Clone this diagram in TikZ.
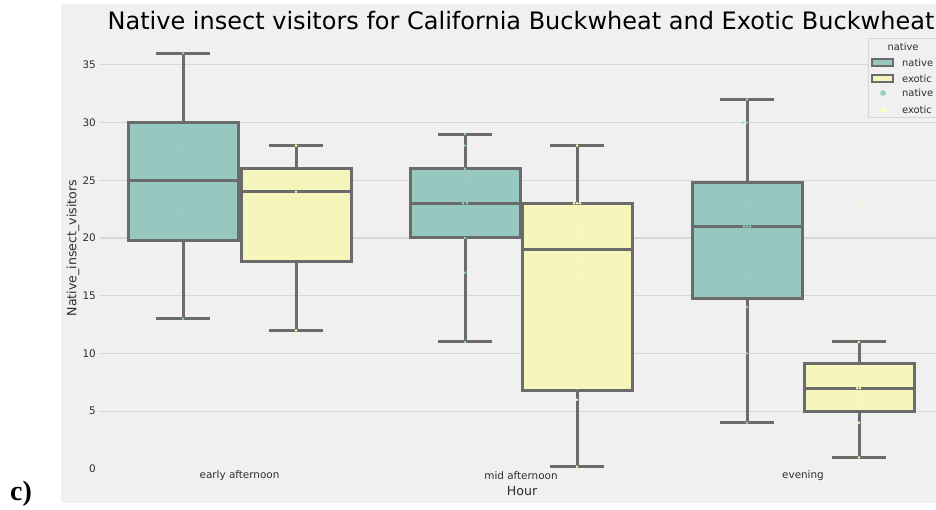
\documentclass[tikz,border=0pt]{standalone}
\usepackage{fontspec}
\setmainfont{DejaVu Sans}
\newfontfamily\panelfont{Liberation Serif}
\definecolor{panelbg}{HTML}{F0F0F0}
\definecolor{gridgray}{HTML}{D6D6D6}
\definecolor{boxline}{HTML}{6B6B6B}
\definecolor{textgray}{HTML}{2E2E2E}
\definecolor{nativefill}{HTML}{96C8BF}
\definecolor{exoticfill}{HTML}{F6F6BC}
\definecolor{nativedot}{HTML}{8DD3C7}
\definecolor{exoticdot}{HTML}{FFFFB3}

\begin{document}
\begin{tikzpicture}[x=1pt, y=1pt,
    boxedge/.style={draw=boxline, line width=3pt},
    whisker/.style={draw=boxline, line width=3pt},
    gridline/.style={draw=gridgray, line width=1.1pt},
    ticklabel/.style={inner sep=0pt, text=textgray, font=\fontsize{10.4}{12}\selectfont},
    axislabel/.style={inner sep=0pt, text=textgray, font=\fontsize{12.6}{15}\selectfont},
    legendtext/.style={inner sep=0pt, anchor=west, text=textgray, font=\fontsize{9.9}{12}\selectfont}]
    \useasboundingbox (0,0) rectangle (936,509);

    % panel background
    \fill[panelbg] (61,6) rectangle (936,505);

    % title
    \node[inner sep=0pt, text=black, font=\fontsize{24}{28}\selectfont] (title) at (521,488)
        {Native insect visitors for California Buckwheat and Exotic Buckwheat};

    % data area: one unit of visitors is 11.55pt
    \begin{scope}[yshift=40pt, y=11.55pt]
        % grid and y ticks
        \foreach \v in {5,10,...,35}
            \draw[gridline] (100,\v) -- (936,\v);
        \foreach \v in {0,5,...,35}
            \node[ticklabel, anchor=east] (ytick\v) at (96,\v) {\v};

        % boxes: centre / low / q1 / median / q3 / high / fill
        \foreach \xc/\lo/\qa/\med/\qb/\hi/\col in {
                183/13/19.75/25/30/36/nativefill,
                296/12/18/24/26/28/exoticfill,
                465/11/20/23/26/29/nativefill,
                577/0.2/6.8/19/23/28/exoticfill,
                747/4/14.75/21/24.8/32/nativefill,
                859/1/5/7/9.1/11/exoticfill}
        {
            \draw[whisker] (\xc,\lo) -- (\xc,\qa) (\xc,\qb) -- (\xc,\hi);
            \draw[whisker] (\xc-27,\lo) -- (\xc+27,\lo) (\xc-27,\hi) -- (\xc+27,\hi);
            \filldraw[boxedge, fill=\col] (\xc-55,\qa) rectangle (\xc+55,\qb);
            \draw[whisker] (\xc-55,\med) -- (\xc+55,\med);
        }

        % strip points
        \foreach \px/\py in {183/36, 183/28, 183/22, 183/13,
                465/29, 465/28, 465/26, 465/25, 463/23, 467/23, 465/20, 465/17, 465/11,
                743/30, 747/30, 747/32, 747/23, 744/21, 747/21, 750/21, 747/17,
                747/15, 747/14, 747/10, 747/4}
            \fill[nativedot] (\px,\py) circle[radius=1.4pt];
        \foreach \px/\py in {296/28, 296/24, 296/12,
                577/28, 574/23, 577/23, 580/23, 577/21, 577/20, 577/18, 577/17,
                577/7, 573/6, 577/6, 577/0.2,
                859/23.1, 859/22.8, 859/11, 857/7, 860/7, 859/6, 859/4, 859/1}
            \fill[exoticdot] (\px,\py) circle[radius=1.4pt];
    \end{scope}

    % x ticks and axis labels
    \node[ticklabel] (xtick1) at (239.5,33) {early afternoon};
    \node[ticklabel] (xtick2) at (521,33) {mid afternoon};
    \node[ticklabel] (xtick3) at (803,33) {evening};
    \node[axislabel] (xlabel) at (522,18) {Hour};
    \node[axislabel, rotate=90] (ylabel) at (73,261) {Native\_insect\_visitors};

    % legend
    \draw[draw=gridgray, fill=panelbg, line width=0.6pt] (868,392) rectangle (940,471);
    \node[legendtext, anchor=center] (legtitle) at (903,462) {native};
    \filldraw[draw=boxline, fill=nativefill, line width=1.2pt] (872,443) rectangle (893,450);
    \node[legendtext] (legbox1) at (902,446.5) {native};
    \filldraw[draw=boxline, fill=exoticfill, line width=1.2pt] (872,427) rectangle (893,434);
    \node[legendtext] (legbox2) at (902,430.5) {exotic};
    \fill[nativedot] (883,416) circle[radius=2.8pt];
    \node[legendtext] (legdot1) at (902,416) {native};
    \fill[exoticdot] (883,399) circle[radius=2.8pt];
    \node[legendtext] (legdot2) at (902,399.5) {exotic};

    % panel tag
    \node[inner sep=0pt, font=\panelfont\bfseries\fontsize{28}{32}\selectfont] (tag) at (21,15) {c)};
\end{tikzpicture}
\end{document}
